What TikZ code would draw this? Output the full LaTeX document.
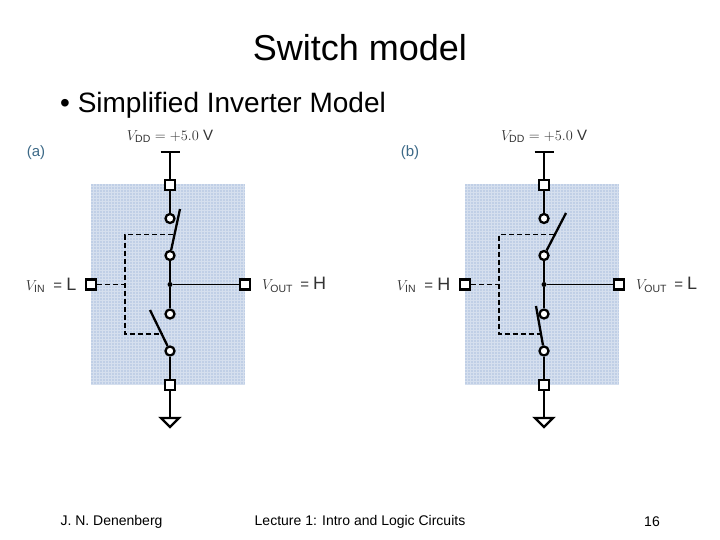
\documentclass[tikz,border=0pt]{standalone}
\usepackage{fontspec}
\setmainfont{Liberation Sans}
\usetikzlibrary{calc}
\definecolor{panelblue}{RGB}{192,207,230}
\definecolor{tagblue}{RGB}{60,105,135}
\newcommand{\lvlsize}{\fontsize{18}{18}\selectfont}
\tikzset{
  wire/.style={line width=2.3pt},
  thinwire/.style={line width=1pt},
  ctrl/.style={line width=1.2pt, dash pattern=on 5pt off 3pt},
  terminal/.style={draw, line width=2.5pt, fill=white, minimum size=10pt, inner sep=0pt},
  contact/.style={circle, draw, line width=2.3pt, fill=white, minimum size=9pt, inner sep=0pt},
  joint/.style={circle, fill=black, minimum size=5pt, inner sep=0pt},
  lbl/.style={text=black!80, font=\fontsize{15}{15}\selectfont, inner sep=0pt}
}
\begin{document}
\begin{tikzpicture}[x=1pt,y=-1pt]
\useasboundingbox (0,0) rectangle (720,540);
\node (title) at (360,48) {\fontsize{36}{36}\selectfont Switch model};
\node[anchor=west, inner sep=0pt] (sub) at (60,105) {\fontsize{28}{28}\selectfont \textbullet\ Simplified Inverter Model};
\foreach \p/\dx/\vin/\vout/\ux/\uy/\ucx/\lx/\ly/\lcx/\lcy in {a/0/L/H/180/209/173/150/310/162/334,b/374/H/L/192/213/180/162/306/167/334}{
\begin{scope}[xshift=\dx pt]
\fill[panelblue] (91,184) rectangle (245,385);
\draw[white, opacity=0.35, line width=0.7pt] (91,184) grid[step=3pt] (245,385);
\node[text=tagblue, font=\fontsize{15}{15}\selectfont] (\p tag) at (36,153) {(\p)};
\node[lbl] (\p vdd) at (170,136) {$V_{\mathrm{DD}}=+5.0$ V};
\node[lbl, anchor=east] (\p vinl) at (76.5,285) {$V_{\mathrm{IN}}$\hspace{4pt} = {\lvlsize \vin}};
\node[lbl, anchor=west] (\p voutl) at (262,285) {$V_{\mathrm{OUT}}$\hspace{3pt} = {\lvlsize \vout}};
\coordinate (\p rail) at (170,152);
\node[terminal] (\p ttop) at (170,185) {};
\node[contact] (\p c1) at (170,218.5) {};
\node[contact] (\p c2) at (170,255.5) {};
\node[joint] (\p mid) at (170,284.5) {};
\node[contact] (\p c3) at (170,314) {};
\node[contact] (\p c4) at (170,351) {};
\node[terminal] (\p tbot) at (170,385) {};
\node[terminal] (\p tin) at (91,284.5) {};
\node[terminal] (\p tout) at (245,284.5) {};
\coordinate (\p gnd) at (170,418);
\draw[wire] ($(\p rail)+(-9.5,0)$) -- ($(\p rail)+(9.5,0)$);
\draw[wire] (\p rail) -- (\p ttop);
\draw[wire] (\p ttop) -- (\p c1);
\draw[wire] (\p c2) -- (\p mid);
\draw[wire] (\p mid) -- (\p c3);
\draw[wire] (\p c4) -- (\p tbot);
\draw[wire] (\p tbot) -- (\p gnd);
\draw[wire] (\p gnd) ++(-9,0) -- ++(18,0) -- ++(-9,9) -- cycle;
\draw[thinwire] (\p mid) -- (\p tout);
% switch arms and their control line
\coordinate (\p uend) at (\ux,\uy);
\coordinate (\p lend) at (\lx,\ly);
\coordinate (\p utap) at (\ucx,234.5);
\coordinate (\p ltap) at (\lcx,\lcy);
\coordinate (\p ucor) at (125,234.5);
\coordinate (\p lcor) at (125,\lcy);
\coordinate (\p mcor) at (125,284.5);
\draw[wire] (\p c2) -- (\p uend);
\draw[wire] (\p c4) -- (\p lend);
\draw[ctrl] (\p utap) -- (\p ucor) -- (\p lcor) -- (\p ltap);
\draw[ctrl] (\p tin) -- (\p mcor);
\end{scope}
}
\node (author) at (111.5,522) {\fontsize{14}{14}\selectfont J. N. Denenberg};
\node (lecture) at (360,522) {\fontsize{14}{14}\selectfont Lecture 1: Intro and Logic Circuits};
\node (page) at (652,522) {\fontsize{14}{14}\selectfont 16};
\end{tikzpicture}
\end{document}
